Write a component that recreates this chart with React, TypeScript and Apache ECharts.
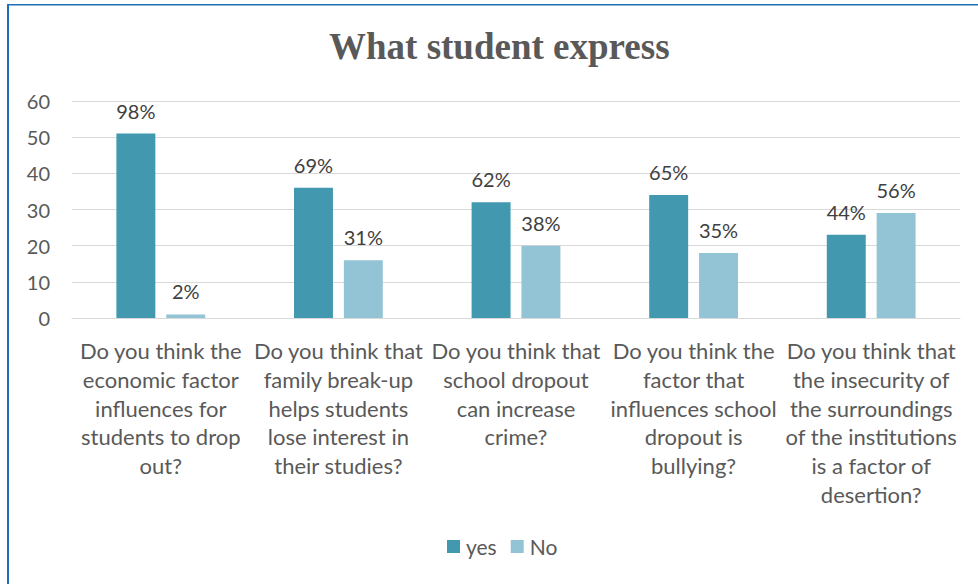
import React, { useEffect, useRef } from "react";
import * as echarts from "echarts";

const categories = [
  "Do you think the\neconomic factor\ninfluences for\nstudents to drop\nout?",
  "Do you think that\nfamily break-up\nhelps students\nlose interest in\ntheir studies?",
  "Do you think that\nschool dropout\ncan increase\ncrime?",
  "Do you think the\nfactor that\ninfluences school\ndropout is\nbullying?",
  "Do you think that\nthe insecurity of\nthe surroundings\nof the institutions\nis a factor of\ndesertion?",
];
const yesValues = [51, 36, 32, 34, 23];
const noValues = [1, 16, 20, 18, 29];
const yesLabels = ["98%", "69%", "62%", "65%", "44%"];
const noLabels = ["2%", "31%", "38%", "35%", "56%"];

const FONT = "Lato, 'Open Sans', sans-serif";
const TXT = "#595959";

export default function App() {
  const ref = useRef<HTMLDivElement>(null);
  useEffect(() => {
    if (!ref.current) return;
    const chart = echarts.init(ref.current, null, { renderer: "svg" });
    chart.setOption({
      animation: false,
      backgroundColor: "#ffffff",
      title: {
        text: "What student express",
        left: 324,
        top: 23,
        textStyle: {
          fontFamily: "'Liberation Serif', 'Times New Roman', serif",
          fontWeight: "bold",
          fontSize: 37,
          color: TXT,
        },
      },
      graphic: [
        { type: "rect", shape: { x: 7, y: 4, width: 2, height: 590 }, style: { fill: "#1F6FB8" } },
        { type: "rect", shape: { x: 7, y: 4, width: 980, height: 1.5 }, style: { fill: "#1F6FB8" } },
      ],
      legend: {
        bottom: 22,
        left: 442,
        itemWidth: 13,
        itemHeight: 13,
        itemGap: 14,
        icon: "rect",
        textStyle: { fontFamily: FONT, fontSize: 21, color: TXT, padding: [0, 0, 0, 1] },
        data: ["yes", "No"],
      },
      grid: { left: 72, right: 18, top: 101, bottom: 266, containLabel: false },
      xAxis: {
        type: "category",
        data: categories,
        axisLine: { show: true, lineStyle: { color: "#d9d9d9", width: 1 } },
        axisTick: { show: false },
        axisLabel: {
          interval: 0,
          fontFamily: FONT,
          fontSize: 22,
          color: TXT,
          lineHeight: 28.8,
          margin: 18,
          verticalAlign: "top",
        },
      },
      yAxis: {
        type: "value",
        min: 0,
        max: 60,
        interval: 10,
        axisLine: { show: false },
        axisTick: { show: false },
        splitLine: { lineStyle: { color: "#d9d9d9", width: 1 } },
        axisLabel: { fontFamily: FONT, fontSize: 20, color: TXT, margin: 22 },
      },
      series: [
        {
          name: "yes",
          type: "bar",
          data: yesValues,
          barGap: "28%",
          barCategoryGap: "50%",
          itemStyle: { color: "#4198AF" },
          label: {
            show: true,
            position: "top",
            distance: 13,
            fontFamily: FONT,
            fontSize: 20,
            color: "#404040",
            formatter: (p: any) => yesLabels[p.dataIndex],
          },
        },
        {
          name: "No",
          type: "bar",
          data: noValues,
          itemStyle: { color: "#93C4D5" },
          label: {
            show: true,
            position: "top",
            distance: 13,
            fontFamily: FONT,
            fontSize: 20,
            color: "#404040",
            formatter: (p: any) => noLabels[p.dataIndex],
          },
        },
      ],
    });
    return () => chart.dispose();
  }, []);
  return (
    <div
      ref={ref}
      style={{ position: "fixed", left: 0, top: 0, width: 978, height: 584 }}
    />
  );
}
